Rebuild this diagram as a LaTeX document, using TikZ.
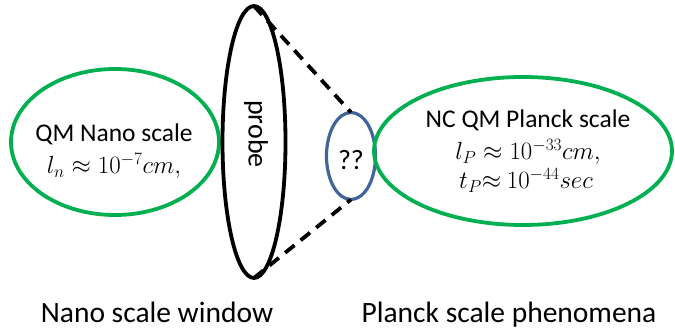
\documentclass[tikz,border=0pt]{standalone}
\usepackage{fontspec}
\setmainfont{Carlito}
\usetikzlibrary{shapes.geometric}
\definecolor{ogreen}{RGB}{0,176,80}
\definecolor{oblue}{RGB}{65,100,155}
\tikzset{
  oval/.style={ellipse, draw, inner sep=0pt, outer sep=0pt},
  txt/.style={anchor=base, inner sep=0pt, font=\fontsize{25.5}{28}\selectfont},
  big/.style={anchor=base, inner sep=0pt, font=\fontsize{29.5}{32}\selectfont},
  dashcon/.style={line width=3.8pt, dash pattern=on 12pt off 8pt}
}
\begin{document}
\begin{tikzpicture}[x=1pt,y=-1pt]
\useasboundingbox (0,0) rectangle (675,331);
\node[oval, draw=ogreen, line width=3.8pt, minimum width=208pt, minimum height=146pt] (nano) at (115,142) {};
\node[oval, draw=black, line width=3.8pt, minimum width=63pt, minimum height=272pt] (probe) at (254,142) {};
\node[oval, draw=oblue, line width=3.2pt, minimum width=49pt, minimum height=87pt] (qq) at (351,156) {};
\node[oval, draw=ogreen, line width=3.8pt, minimum width=298pt, minimum height=148pt] (planck) at (523,151) {};
\draw[dashcon] (probe.north) -- (qq.north);
\draw[dashcon] (probe.south) -- (qq.south);
\node[txt] (t1) at (114,142) {QM Nano scale};
\node[txt] (t2) at (114,174) {$l_n \approx 10^{-7}cm,$};
\node[txt] (t3) at (528,128) {NC QM Planck scale};
\node[txt] (t4) at (528,160) {$l_P \approx 10^{-33}cm,$};
\node[txt] (t5) at (526,189) {$t_P{\approx}\ 10^{-44}sec$};
\node[inner sep=0pt, anchor=base, font=\fontsize{28}{30}\selectfont] (t6) at (351,170) {??};
\node[inner sep=0pt, rotate=-90, font=\fontsize{28}{30}\selectfont] (t7) at (256,134) {probe};
\node[big] (b1) at (157,323) {Nano scale window};
\node[big] (b2) at (509,323) {Planck scale phenomena};
\end{tikzpicture}
\end{document}
